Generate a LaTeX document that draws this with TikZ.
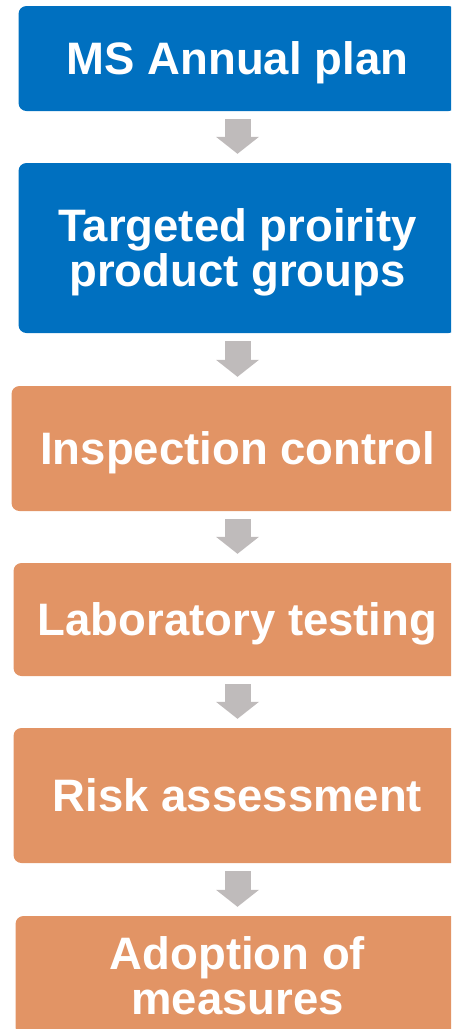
\documentclass[tikz,border=0pt]{standalone}
\usepackage{fontspec}
\setmainfont{Liberation Sans}
\usepackage{xcolor}
\usepackage{tikz}
\usetikzlibrary{arrows.meta}
\definecolor{msblue}{RGB}{0,112,192}
\definecolor{msorange}{RGB}{226,148,101}
\definecolor{msgrey}{RGB}{191,187,187}
\tikzset{
	stage/.style={rectangle,rounded corners=8pt,text=white,align=center,
		font=\fontsize{45.5}{45}\selectfont\bfseries,inner sep=0pt,text depth=0pt},
	blue node/.style={stage,fill=msblue},
	orange node/.style={stage,fill=msorange},
	down arrow/.style={draw=msgrey,line width=26pt,
		-{Triangle[width=43pt,length=17pt,line width=0pt]},
		shorten <=8pt,shorten >=9pt}
}

\begin{document}
\begin{tikzpicture}[x=1pt,y=-1pt]
	\path[use as bounding box,clip] (0,0) rectangle (451,1029);
	\node [blue node,minimum width=438pt,minimum height=105pt] (plan) at (237.5,58.5) {MS Annual plan};
	\node [blue node,minimum width=438pt,minimum height=170pt] (groups) at (237.5,248) {Targeted proirity\\product groups};
	\node [orange node,minimum width=452pt,minimum height=125pt] (inspect) at (237.5,448.5) {Inspection control};
	\node [orange node,minimum width=448pt,minimum height=113pt] (lab) at (237.5,619.5) {Laboratory testing};
	\node [orange node,minimum width=448pt,minimum height=135pt] (risk) at (237.5,795.5) {Risk assessment};
	\node [orange node,minimum width=444pt,minimum height=119pt] (adopt) at (237.5,975.5) {Adoption of\\measures};
	\draw [down arrow] (plan) -- (groups);
	\draw [down arrow] (groups) -- (inspect);
	\draw [down arrow] (inspect) -- (lab);
	\draw [down arrow] (lab) -- (risk);
	\draw [down arrow] (risk) -- (adopt);
\end{tikzpicture}
\end{document}
